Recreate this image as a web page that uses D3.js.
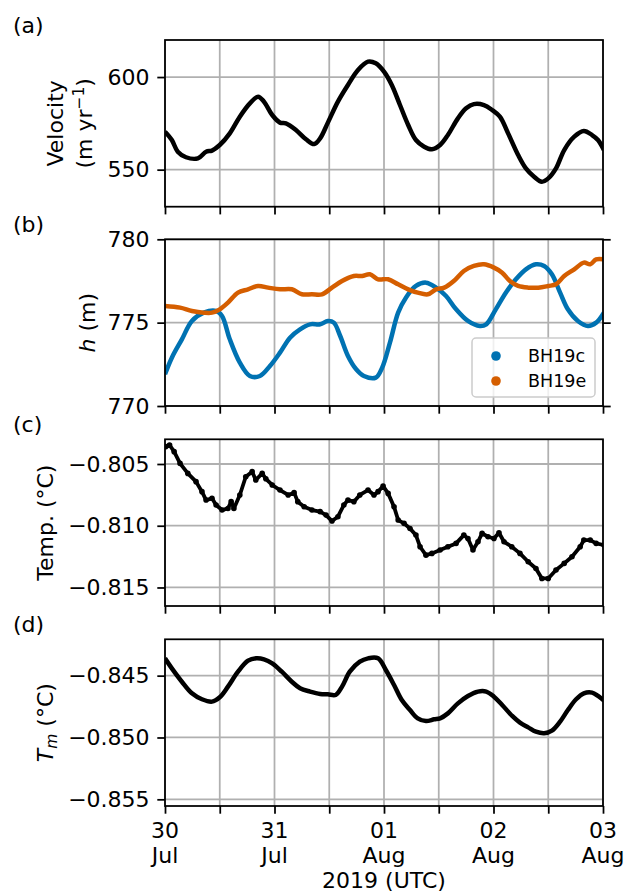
<!DOCTYPE html>
<html>
<head>
<meta charset="utf-8">
<script src="https://cdn.jsdelivr.net/npm/d3@7"></script>
<style>
  body { margin: 0; background: #fff; }
  svg { font-family: "DejaVu Sans", sans-serif; }
</style>
</head>
<body>
<svg id="chart" width="626" height="895"></svg>
<script>
// hours after 2019-07-30 00:00 UTC
const velHours = [0, 1.5, 2.8, 4.6, 7.2, 9, 10.3, 12, 14.2, 16.4, 18.6, 20.4, 21.7, 23.5, 25.2, 26.5, 28.7, 30.9, 32.7, 34, 35.7, 37.9, 40.1, 42.3, 44.5, 46.2, 48, 49.7, 51.5, 53.3, 55, 56.8, 58.5, 60.3, 62, 64.2, 66, 67.7, 69.9, 71.7, 73.4, 75.2, 77.4, 79.1, 80.9, 82.6, 84, 85.7, 87.5, 89.7, 91.8, 93.6, 94.9, 96.2];
const velValues = [570.5, 566, 559.7, 556.7, 556.1, 559.7, 560.3, 563.3, 569.6, 578.6, 585.8, 589.4, 586.7, 579.5, 575.4, 575, 571.4, 566.4, 563.8, 566.9, 575.4, 586.7, 595.7, 603.8, 608.3, 607.4, 602.9, 595.7, 584.9, 574.1, 566, 562.4, 561, 563.3, 568.7, 577.7, 583.1, 585.4, 584.9, 582.2, 578.6, 569.6, 557.9, 550.7, 546.2, 543.5, 545.3, 550.7, 560.6, 567.8, 570.9, 568.7, 566, 560.6];

const bh19cHours = [0, 1.5, 3.7, 5.9, 8.5, 11.2, 12.5, 14.2, 16.4, 18.6, 20.8, 23, 25.2, 27.4, 29.6, 31.8, 34, 35.7, 37, 38.4, 40.1, 41.9, 43.6, 46.2, 47.6, 49.3, 51.1, 52.8, 55, 57.2, 59.4, 61.6, 63.8, 66.4, 69, 70.4, 72.5, 74.7, 76.9, 79.1, 81.3, 83.1, 84.8, 86.6, 88.3, 90.5, 92.7, 94.5, 96.2];
const bh19cValues = [771.9, 772.9, 774, 775.1, 775.6, 775.7, 775.4, 774, 772.6, 771.8, 771.8, 772.4, 773.2, 774.1, 774.6, 774.9, 774.9, 775.1, 775, 774.2, 773, 772.2, 771.8, 771.7, 772.3, 773.8, 775.6, 776.5, 777.2, 777.4, 777.1, 776.6, 775.8, 775.1, 774.8, 774.9, 775.8, 776.8, 777.6, 778.2, 778.5, 778.4, 777.9, 776.8, 775.8, 775.1, 774.8, 775, 775.6];

const bh19eHours = [0, 3.3, 5.9, 8.5, 10.3, 12, 13.8, 16, 18.2, 20.4, 22.6, 25.2, 27.8, 30, 32.2, 34.4, 36.6, 38.8, 41.4, 43.2, 44.9, 46.7, 48.9, 51.1, 53.3, 55.4, 57.6, 59.4, 61.2, 63.3, 65.5, 67.7, 69.9, 72.1, 73.9, 75.6, 77.4, 79.6, 81.8, 84, 85.7, 87.5, 89.7, 91.8, 93.2, 94.5, 96.2];
const bh19eValues = [776, 775.9, 775.7, 775.6, 775.6, 775.8, 776.2, 776.8, 777, 777.2, 777.1, 777, 777, 776.7, 776.7, 776.7, 777.1, 777.5, 777.8, 777.8, 777.9, 777.6, 777.6, 777.3, 777, 776.8, 776.7, 777, 777.1, 777.5, 778.1, 778.4, 778.5, 778.3, 778, 777.5, 777.2, 777.1, 777.1, 777.2, 777.3, 777.8, 778.2, 778.6, 778.5, 778.8, 778.8];

const tempHours = [0.2, 1, 2, 3.3, 5, 6.8, 8.1, 9, 10.3, 11.2, 12.5, 13.8, 14.5, 15.1, 16.4, 17.7, 19.1, 19.9, 21.3, 22.1, 23.5, 25.2, 27, 28.3, 29.1, 30.5, 32.2, 34, 35.3, 36.6, 37.9, 39.2, 40.1, 41.4, 42.7, 44.5, 45.8, 46.7, 47.8, 48.9, 50.2, 51.1, 52.4, 53.7, 55, 55.9, 57.2, 58.5, 60.3, 62, 63.8, 65.5, 66.4, 67.5, 68.6, 69.5, 70.8, 72.1, 73.2, 74.3, 76, 77.8, 79.6, 81.3, 82.6, 84, 85.7, 87.5, 89.2, 91, 91.8, 93.2, 94.5, 96.2];
const tempValues = [-0.80359, -0.80346, -0.8040, -0.80495, -0.80576, -0.80643, -0.80724, -0.80792, -0.80778, -0.80832, -0.80873, -0.8086, -0.80805, -0.8086, -0.80751, -0.80603, -0.80562, -0.8063, -0.80576, -0.8062, -0.8067, -0.80711, -0.80751, -0.80732, -0.80805, -0.80846, -0.80873, -0.80886, -0.80914, -0.80962, -0.80927, -0.80832, -0.80792, -0.80805, -0.80751, -0.80711, -0.80751, -0.80724, -0.80678, -0.80738, -0.80846, -0.80954, -0.80981, -0.81022, -0.81076, -0.8117, -0.81238, -0.81224, -0.81197, -0.8117, -0.81143, -0.81076, -0.81103, -0.81197, -0.8113, -0.81062, -0.81089, -0.81103, -0.81057, -0.8113, -0.8117, -0.81224, -0.81292, -0.81346, -0.81427, -0.81427, -0.81359, -0.81305, -0.81251, -0.8117, -0.81116, -0.81116, -0.81143, -0.81157];

const tmHours = [0, 1.5, 3.7, 5.9, 8.1, 10.3, 12, 13.8, 16, 18.2, 20, 21.7, 23.5, 25.6, 27.8, 29.6, 31.8, 34, 35.7, 37.4, 38.8, 40.5, 42.7, 44.5, 46.7, 48.4, 50.2, 51.9, 53.7, 55.4, 57.2, 59, 60.3, 62, 64.2, 66.4, 68.6, 70.4, 72.1, 73.9, 76.1, 77.8, 79.6, 81.3, 83.1, 84.8, 86.6, 88.3, 90.1, 91.8, 93.6, 94.9, 96.2];
const tmValues = [-0.8436, -0.84441, -0.84549, -0.84643, -0.84691, -0.8471, -0.84675, -0.84589, -0.84468, -0.84379, -0.8436, -0.84368, -0.844, -0.84468, -0.84549, -0.84602, -0.84629, -0.84648, -0.84651, -0.84656, -0.84589, -0.84468, -0.84387, -0.8436, -0.8436, -0.84454, -0.84575, -0.84697, -0.84778, -0.84845, -0.84867, -0.84853, -0.84845, -0.84805, -0.84724, -0.84664, -0.84629, -0.84629, -0.8467, -0.84737, -0.84826, -0.8488, -0.84918, -0.84953, -0.84966, -0.84945, -0.84872, -0.84778, -0.84691, -0.84643, -0.84637, -0.84664, -0.84702];

const seriesNames = ["BH19c", "BH19e"];
const seriesColors = ["#0072b2", "#d55e00"];
const panelLetters = ["(a)", "(b)", "(c)", "(d)"];

const start = Date.UTC(2019, 6, 30);
const toDate = h => new Date(start + h * 3600e3);

const svg = d3.select('#chart');
const left = 165, right = 603, panelH = 166.7;
const tops = [40, 239.3, 439.3, 639.3];
const tickLen = 7.7, lw = 1.76, fs = 22;

const x = d3.scaleUtc()
  .domain([new Date(start), toDate(96)])
  .range([left, right]);
const xTicks = x.ticks(d3.utcHour.every(12));

const defs = svg.append('defs');

const makePanel = (i, domain, ticks, fmt) => {
  const top = tops[i], bottom = top + panelH;
  const y = d3.scaleLinear().domain(domain).range([bottom, top]);
  const g = svg.append('g');

  defs.append('clipPath').attr('id', 'clip' + i)
    .append('rect')
      .attr('x', left).attr('y', top)
      .attr('width', right - left).attr('height', panelH);

  // grid
  g.selectAll('.vgrid').data(xTicks).enter().append('line')
    .attr('x1', d => x(d)).attr('x2', d => x(d))
    .attr('y1', top).attr('y2', bottom)
    .attr('stroke', '#b0b0b0').attr('stroke-width', lw);
  g.selectAll('.hgrid').data(ticks).enter().append('line')
    .attr('x1', left).attr('x2', right)
    .attr('y1', d => y(d)).attr('y2', d => y(d))
    .attr('stroke', '#b0b0b0').attr('stroke-width', lw);

  const yAxis = g.append('g')
    .attr('transform', `translate(${left},0)`)
    .call(d3.axisLeft(y).tickValues(ticks).tickSize(tickLen).tickPadding(tickLen).tickFormat(fmt));
  yAxis.select('.domain').remove();
  yAxis.selectAll('line').attr('stroke-width', lw);
  yAxis.selectAll('text').attr('font-size', fs).attr('font-family', 'DejaVu Sans').attr('fill', '#000');

  const xAxis = g.append('g')
    .attr('transform', `translate(0,${bottom})`)
    .call(d3.axisBottom(x).tickValues(xTicks).tickSize(tickLen).tickFormat(''));
  xAxis.select('.domain').remove();
  xAxis.selectAll('line').attr('stroke-width', lw);

  svg.append('text')
    .attr('x', 13).attr('y', top - 7)
    .attr('font-size', fs)
    .text(panelLetters[i]);

  const plot = svg.append('g').attr('clip-path', `url(#clip${i})`);
  const frame = () => svg.append('rect')
    .attr('x', left).attr('y', top)
    .attr('width', right - left).attr('height', panelH)
    .attr('fill', 'none').attr('stroke', '#000').attr('stroke-width', lw);

  return { y, g, plot, frame, top, bottom };
};

const lineOf = (y, hours, values, curve) => d3.line()
  .x((d, k) => x(toDate(hours[k])))
  .y(d => y(d))
  .curve(curve)(values);

// (a) velocity
const pa = makePanel(0, [530, 620], [550, 600], d3.format('d'));
pa.plot.append('path')
  .attr('d', lineOf(pa.y, velHours, velValues, d3.curveCatmullRom))
  .attr('fill', 'none').attr('stroke', '#000').attr('stroke-width', 4.5)
  .attr('stroke-linejoin', 'round');
pa.frame();
const la = svg.append('g').attr('font-size', fs).attr('text-anchor', 'middle');
la.append('text')
  .attr('transform', `translate(63,${pa.top + panelH / 2}) rotate(-90)`)
  .text('Velocity');
const la2 = la.append('text')
  .attr('transform', `translate(92,${pa.top + panelH / 2}) rotate(-90)`);
la2.append('tspan').text('(m yr');
la2.append('tspan').attr('font-size', 15.5).attr('dy', -8).text('\u22121');
la2.append('tspan').attr('dy', 8).text(')');

// (b) height
const pb = makePanel(1, [770, 780], [770, 775, 780], d3.format('d'));
const rAxis = pb.g.append('g')
  .attr('transform', `translate(${right},0)`)
  .call(d3.axisRight(pb.y).tickValues([770, 775, 780]).tickSize(tickLen).tickFormat(''));
rAxis.select('.domain').remove();
rAxis.selectAll('line').attr('stroke-width', lw);
[[bh19cHours, bh19cValues], [bh19eHours, bh19eValues]].forEach(([hs, vs], k) => {
  pb.plot.append('path')
    .attr('d', lineOf(pb.y, hs, vs, d3.curveCatmullRom))
    .attr('fill', 'none').attr('stroke', seriesColors[k]).attr('stroke-width', 4.5)
    .attr('stroke-linejoin', 'round');
});
pb.frame();
const lb = svg.append('text').attr('font-size', fs).attr('text-anchor', 'middle')
  .attr('transform', `translate(94.5,${pb.top + panelH / 2}) rotate(-90)`);
lb.append('tspan').attr('font-style', 'italic').text('h');
lb.append('tspan').text(' (m)');

// legend
const leg = svg.append('g').attr('transform', 'translate(472,338)');
leg.append('rect')
  .attr('width', 123).attr('height', 59).attr('rx', 4)
  .attr('fill', '#fff').attr('fill-opacity', 0.8)
  .attr('stroke', '#cccccc').attr('stroke-width', 1.5);
seriesNames.forEach((name, k) => {
  leg.append('circle')
    .attr('cx', 24).attr('cy', 18 + k * 25).attr('r', 4.8)
    .attr('fill', seriesColors[k]);
  leg.append('text')
    .attr('x', 56).attr('y', 18 + k * 25).attr('dy', '0.36em')
    .attr('font-size', 17.5).text(name);
});

// (c) temperature
const pc = makePanel(2, [-0.8165, -0.803], [-0.815, -0.810, -0.805], d3.format('.3f'));
pc.plot.append('path')
  .attr('d', lineOf(pc.y, tempHours, tempValues, d3.curveLinear))
  .attr('fill', 'none').attr('stroke', '#000').attr('stroke-width', 3.8)
  .attr('stroke-linejoin', 'round');
pc.plot.selectAll('circle').data(tempValues).enter().append('circle')
  .attr('cx', (d, k) => x(toDate(tempHours[k])))
  .attr('cy', d => pc.y(d))
  .attr('r', 2.8).attr('fill', '#000');
pc.frame();
svg.append('text').attr('font-size', fs).attr('text-anchor', 'middle')
  .attr('transform', `translate(52.7,${pc.top + panelH / 2}) rotate(-90)`)
  .text('Temp. (\u00B0C)');

// (d) Tm
const pd = makePanel(3, [-0.85554, -0.84206], [-0.855, -0.850, -0.845], d3.format('.3f'));
pd.plot.append('path')
  .attr('d', lineOf(pd.y, tmHours, tmValues, d3.curveCatmullRom))
  .attr('fill', 'none').attr('stroke', '#000').attr('stroke-width', 4.5)
  .attr('stroke-linejoin', 'round');
pd.frame();
const ld = svg.append('text').attr('font-size', fs).attr('text-anchor', 'middle')
  .attr('transform', `translate(52.7,${pd.top + panelH / 2}) rotate(-90)`);
ld.append('tspan').attr('font-style', 'italic').text('T');
ld.append('tspan').attr('font-style', 'italic').attr('font-size', 15.5).attr('dy', 4).text('m');
ld.append('tspan').attr('dy', -4).text(' (\u00B0C)');

// x tick labels (days only)
const dayTicks = x.ticks(d3.utcDay.every(1));
const xl = svg.append('g').attr('font-size', fs).attr('text-anchor', 'middle');
dayTicks.forEach(d => {
  const t = xl.append('text').attr('x', x(d));
  t.append('tspan').attr('x', x(d)).attr('y', 838).text(d3.utcFormat('%d')(d));
  t.append('tspan').attr('x', x(d)).attr('y', 863).text(d3.utcFormat('%b')(d));
});
svg.append('text')
  .attr('x', (left + right) / 2).attr('y', 888)
  .attr('font-size', fs).attr('text-anchor', 'middle')
  .text('2019 (UTC)');
</script>
</body>
</html>
